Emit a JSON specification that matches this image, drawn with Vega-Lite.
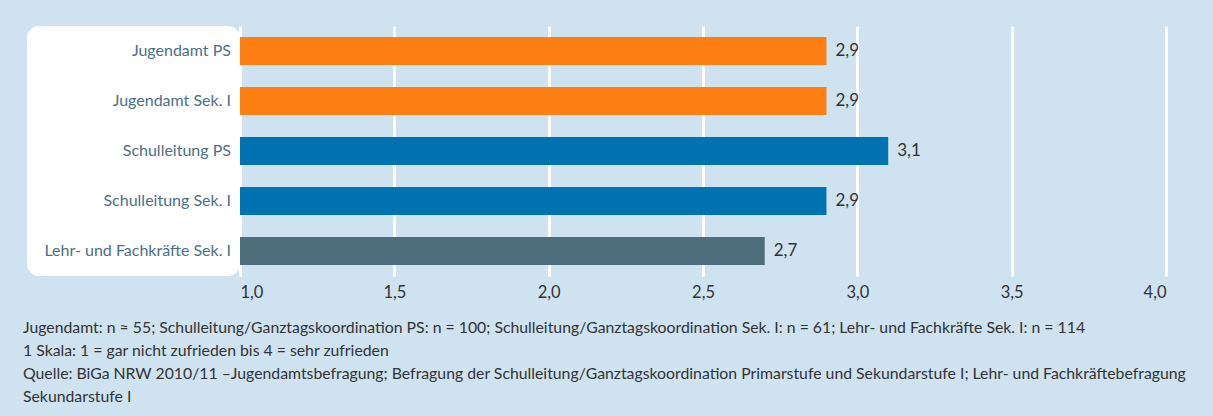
{
  "$schema": "https://vega.github.io/schema/vega-lite/v6.json",
  "background": "#cfe2f0",
  "padding": {"left": 23, "top": 26, "right": 43, "bottom": 14},
  "config": {
    "locale": {"number": {"decimal": ",", "thousands": ".", "grouping": [3], "currency": ["", " €"]}},
    "font": "Lato",
    "concat": {"spacing": 0}
  },
  "data": {
    "values": [
      {"label": "Jugendamt PS", "group": "Jugendamt", "value": 2.9},
      {"label": "Jugendamt Sek. I", "group": "Jugendamt", "value": 2.9},
      {"label": "Schulleitung PS", "group": "Schulleitung", "value": 3.1},
      {"label": "Schulleitung Sek. I", "group": "Schulleitung", "value": 2.9},
      {"label": "Lehr- und Fachkräfte Sek. I", "group": "Lehr", "value": 2.7}
    ]
  },
  "title": {
    "text": [
      "Jugendamt: n ≈ 55; Schulleitung/Ganztagskoordination PS: n = 100; Schulleitung/Ganztagskoordination Sek. I: n = 61; Lehr- und Fachkräfte Sek. I: n = 114",
      "1  Skala: 1 = gar nicht zufrieden bis 4 = sehr zufrieden",
      "Quelle: BiGa NRW 2010/11 –Jugendamtsbefragung; Befragung der Schulleitung/Ganztagskoordination Primarstufe und Sekundarstufe I; Lehr- und Fachkräftebefragung",
      "Sekundarstufe I"
    ],
    "orient": "bottom",
    "anchor": "start",
    "frame": "bounds",
    "font": "Lato",
    "fontSize": 15.8,
    "fontWeight": "normal",
    "color": "#333333",
    "lineHeight": 23,
    "offset": 20,
    "dx": -4
  },
  "hconcat": [
    {
      "width": 213,
      "height": 250,
      "view": {"fill": "white", "stroke": null, "cornerRadius": 12},
      "mark": {"type": "text", "align": "right", "baseline": "middle", "dx": -9, "fontSize": 16, "color": "#4a7088", "font": "Lato"},
      "encoding": {
        "y": {"field": "label", "type": "nominal", "sort": null, "scale": {"paddingInner": 0.44, "paddingOuter": 0.22}, "axis": null},
        "x": {"value": "width"},
        "text": {"field": "label"}
      }
    },
    {
      "width": 926,
      "height": 250,
      "view": {"stroke": null},
      "encoding": {
        "y": {"field": "label", "type": "nominal", "sort": null, "scale": {"paddingInner": 0.44, "paddingOuter": 0.22}, "axis": null}
      },
      "layer": [
        {
          "mark": {"type": "bar"},
          "encoding": {
            "x": {
              "field": "value", "type": "quantitative",
              "scale": {"domain": [1, 4], "zero": false, "nice": false},
              "axis": {
                "values": [1, 1.5, 2, 2.5, 3, 3.5, 4],
                "format": ".1f",
                "title": null,
                "domain": false,
                "ticks": false,
                "grid": true,
                "gridColor": "white",
                "gridWidth": 3,
                "gridOpacity": 1,
                "labelFont": "Lato",
                "labelFontSize": 16.5,
                "labelColor": "#333333",
                "labelPadding": 8
              }
            },
            "x2": {"datum": 1},
            "color": {
              "field": "group", "type": "nominal",
              "scale": {"domain": ["Jugendamt", "Schulleitung", "Lehr"], "range": ["#fd7e12", "#0073b0", "#4e6e7d"]},
              "legend": null
            }
          }
        },
        {
          "mark": {"type": "text", "align": "left", "baseline": "middle", "dx": 9, "fontSize": 17, "color": "#333333", "font": "Lato"},
          "encoding": {
            "x": {"field": "value", "type": "quantitative"},
            "text": {"field": "value", "type": "quantitative", "format": ".1f"}
          }
        }
      ]
    }
  ]
}
